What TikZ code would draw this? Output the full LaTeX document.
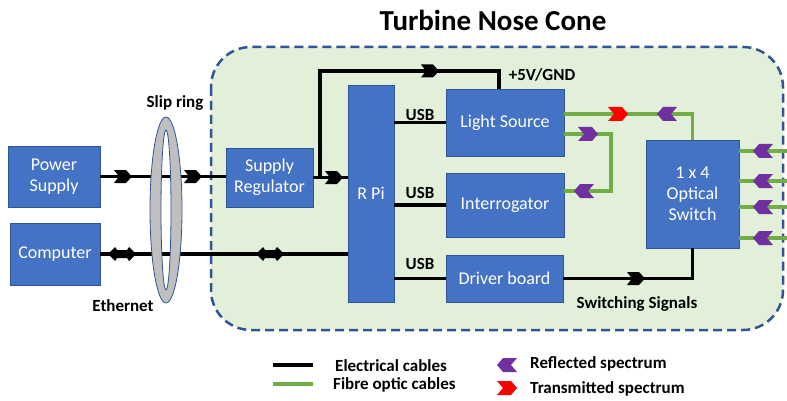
\documentclass[tikz,border=0pt]{standalone}
\usepackage{fontspec}
\setmainfont{Carlito}
\usetikzlibrary{calc}
\definecolor{boxblue}{HTML}{4472C4}
\definecolor{edgeblue}{HTML}{2F5597}
\definecolor{zone}{HTML}{E2F0D9}
\definecolor{fibre}{HTML}{70AD47}
\definecolor{purp}{HTML}{7030A0}
\definecolor{slipgray}{HTML}{BFBFBF}
\begin{document}
\begin{tikzpicture}[x=1pt,y=-1pt,
  blk/.style={draw=edgeblue,line width=0.8pt,fill=boxblue,text=white,font=\fontsize{18}{21}\selectfont,align=center,inner sep=0pt},
  lbl/.style={font=\bfseries\fontsize{17}{19}\selectfont,inner sep=0pt},
  elec/.style={line width=3.8pt,black},
  fib/.style={line width=3.8pt,fibre},
  chev/.pic={\fill[pic actions] (-10,-7) -- (4,-7) -- (10,0) -- (4,7) -- (-10,7) -- (-4,0) -- cycle;},
  etip/.pic={\fill[pic actions] (-9,-6.5) -- (3,-6.5) -- (9,0) -- (3,6.5) -- (-9,6.5) -- (-4,0) -- cycle;},
  dtip/.pic={\fill[pic actions] (-14,0) -- (-7,-7) -- (-5,-4) -- (5,-4) -- (7,-7) -- (14,0) -- (7,7) -- (5,4) -- (-5,4) -- (-7,7) -- cycle;}
]
\useasboundingbox (0,0) rectangle (787,401);

% zone
\draw[edgeblue,line width=2.5pt,dash pattern=on 9pt off 5pt,fill=zone,rounded corners=40pt] (211,47) rectangle (783,330);
\node[font=\bfseries\fontsize{29}{33}\selectfont,inner sep=0pt] (title) at (493,20) {Turbine Nose Cone};

% boxes
\node[blk,minimum width=92pt,minimum height=61pt] (ps) at (54,176.5) {Power\\Supply};
\node[blk,minimum width=90pt,minimum height=62pt] (comp) at (55,254) {Computer};
\node[blk,minimum width=87pt,minimum height=59pt] (sr) at (269.5,177.5) {Supply\\Regulator};
\node[blk,minimum width=46pt,minimum height=217pt] (rpi) at (371,193.5) {R Pi};
\node[blk,minimum width=118pt,minimum height=67pt] (ls) at (505,122.5) {Light Source};
\node[blk,minimum width=118pt,minimum height=64pt] (intg) at (505,205) {Interrogator};
\node[blk,minimum width=117pt,minimum height=47pt] (drv) at (504.5,278.5) {Driver board};
\node[blk,minimum width=93pt,minimum height=108pt] (osw) at (692.5,194) {1 x 4\\Optical\\Switch};

% helper coordinates
\coordinate (j1) at (320,177.5);
\coordinate (toprow) at (0,71);
\coordinate (lstop) at ($(ls.north)+(-6,0)$);
\coordinate (f1) at ($(ls.east)+(0,-8.5)$);
\coordinate (f2) at ($(ls.east)+(0,11.5)$);
\coordinate (f2c) at (611,134);
\coordinate (f2d) at (611,191);
\coordinate (o1) at (787,151);
\coordinate (o2) at (787,181);
\coordinate (o3) at (787,207);
\coordinate (o4) at (787,238);

% electrical
\draw[elec] (ps.east) -- (ps.east -| sr.west);
\draw[elec] (comp.east) -- (comp.east -| rpi.west);
\draw[elec] (sr.east) -- (sr.east -| rpi.west);
\draw[elec] (j1) |- (lstop |- toprow) -- (lstop);
\draw[elec] (rpi.east |- ls.west) -- (ls.west);
\draw[elec] (rpi.east |- intg.west) -- (intg.west);
\draw[elec] (rpi.east |- drv.west) -- (drv.west);
\draw[elec] (drv.east) -| (osw.south);

% fibre
\draw[fib] (f1) -| (osw.north);
\draw[fib] (f2) -- (f2 -| f2c) -- (f2d) -- (f2d -| intg.east);
\foreach \o in {o1,o2,o3,o4} \draw[fib] (osw.east |- \o) -- (\o);

% arrow markers
\pic[fill=black] at (123,176.5) {etip};
\pic[fill=black] at (193,176.5) {etip};
\pic[fill=black] at (334,177.5) {etip};
\pic[fill=black] at (430,71) {etip};
\pic[fill=black] at (636,278.5) {etip};
\pic[fill=black] at (122,254) {dtip};
\pic[fill=black] at (270,254) {dtip};
\pic[fill=red] at (618,114) {chev};
\pic[fill=purp,rotate=180] at (667,114) {chev};
\pic[fill=purp] at (588,134) {chev};
\pic[fill=purp,rotate=180] at (584,191) {chev};
\foreach \y in {151,181,207,238} \pic[fill=purp,rotate=180] at (763,\y) {chev};

% slip ring
\draw[edgeblue,line width=0.8pt,fill=slipgray,even odd rule] (166,210) ellipse [x radius=16,y radius=93] (166,210) ellipse [x radius=5,y radius=80];

% labels
\node[lbl] (slip) at (175,103) {Slip ring};
\node[lbl] (eth) at (123,306) {Ethernet};
\node[lbl] (usb1) at (420,115) {USB};
\node[lbl] (usb2) at (420,193) {USB};
\node[lbl] (usb3) at (420,264) {USB};
\node[lbl] (v5) at (542,75) {+5V/GND};
\node[lbl] (sw) at (637,304) {Switching Signals};

% legend
\coordinate (la1) at (273,365);
\coordinate (la2) at (313,365);
\coordinate (lb1) at (273,384);
\coordinate (lb2) at (313,384);
\draw[elec] (la1) -- (la2);
\draw[fib] (lb1) -- (lb2);
\node[lbl,anchor=west] (le1) at (335,366) {Electrical cables};
\node[lbl,anchor=west] (le2) at (333,385) {Fibre optic cables};
\pic[fill=purp,rotate=180] at (507,365) {chev};
\pic[fill=red] at (507,388) {chev};
\node[lbl,anchor=west] (le3) at (530,364) {Reflected spectrum};
\node[lbl,anchor=west] (le4) at (530,389) {Transmitted spectrum};
\end{tikzpicture}
\end{document}
